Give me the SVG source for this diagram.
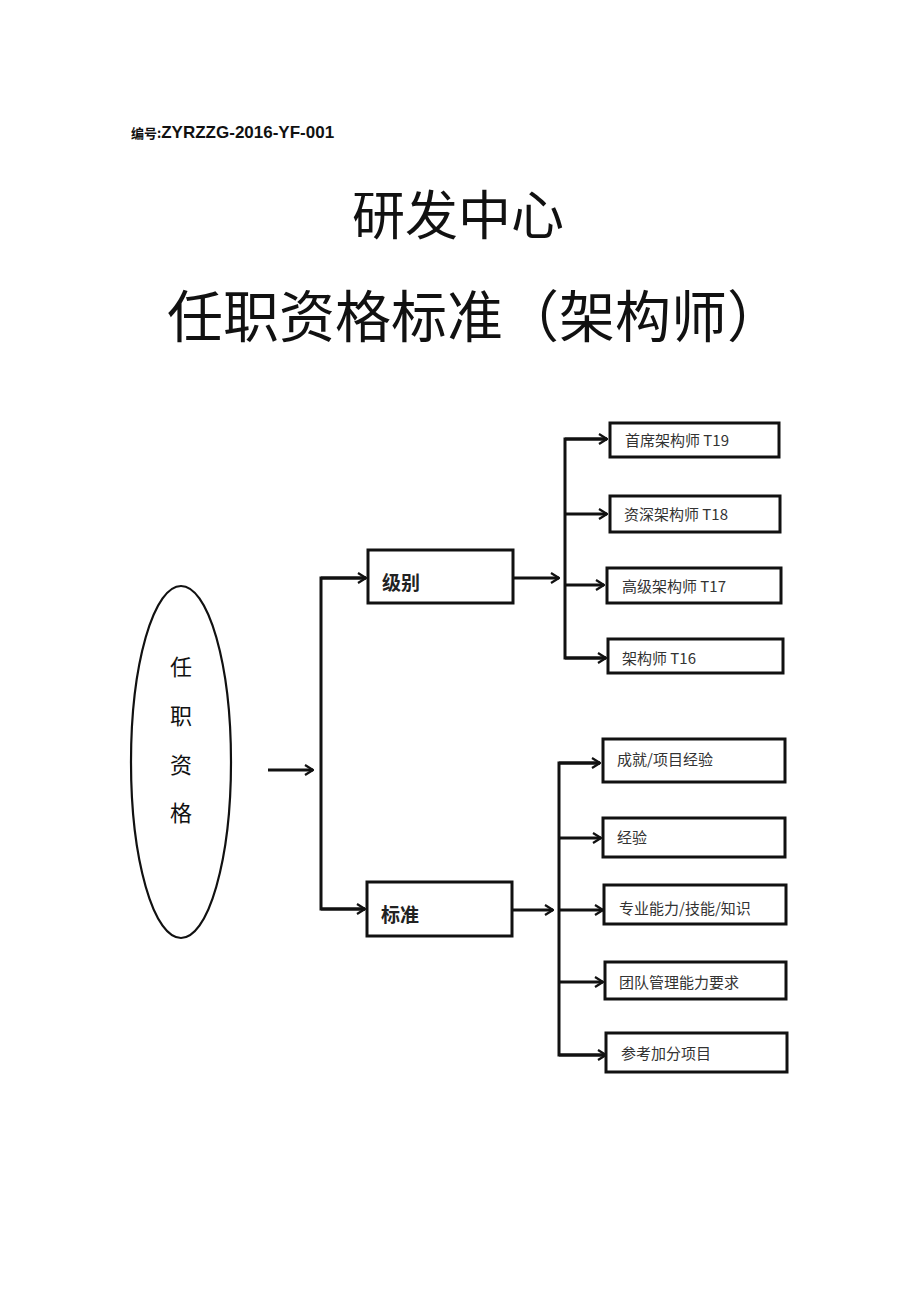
<svg xmlns="http://www.w3.org/2000/svg" width="920" height="1301" viewBox="0 0 920 1301">
<style>
.box{fill:#fff;stroke:#111;stroke-width:3}
.con{fill:none;stroke:#111;stroke-width:3}
.lbl{font-family:"Noto Sans CJK SC","Liberation Sans",sans-serif;font-size:15px;fill:#333}
.mid{font-family:"Noto Sans CJK SC","Liberation Sans",sans-serif;font-size:19px;font-weight:bold;fill:#222}
.title{font-family:"Noto Sans CJK SC",sans-serif;fill:#111}
.vt{font-family:"Noto Sans CJK SC",sans-serif;font-size:22px;fill:#111}
</style>
<defs>
<marker id="arr" viewBox="0 0 10 12" refX="9" refY="6" markerWidth="10" markerHeight="12" markerUnits="userSpaceOnUse" orient="auto">
<path d="M1,1 L9,6 L1,11" fill="none" stroke="#111" stroke-width="2.2"/>
</marker>
</defs>
<rect width="920" height="1301" fill="#fff"/>
<text x="131" y="138" font-family="Liberation Sans,Noto Sans CJK SC,sans-serif" font-size="17" font-weight="bold" fill="#111"><tspan font-size="13" font-family="Noto Sans CJK SC,sans-serif">编号:</tspan>ZYRZZG-2016-YF-001</text>
<text class="title" x="458" y="235" text-anchor="middle" style="font-size:53px">研发中心</text>
<text class="title" x="167" y="337" style="font-size:56px">任职资格标准（架构师）</text>

<g id="connectors">
<path class="con" d="M268,770 H313" marker-end="url(#arr)"/>
<path class="con" d="M366,578 H321 V909 H365" />
<path class="con" d="M321,578 H366" marker-end="url(#arr)"/>
<path class="con" d="M321,909 H365" marker-end="url(#arr)"/>
<path class="con" d="M513,578 H559" marker-end="url(#arr)"/>
<path class="con" d="M607,439 H565 V658 H606"/>
<path class="con" d="M565,439 H607" marker-end="url(#arr)"/>
<path class="con" d="M565,514 H607" marker-end="url(#arr)"/>
<path class="con" d="M565,585 H604" marker-end="url(#arr)"/>
<path class="con" d="M565,658 H606" marker-end="url(#arr)"/>
<path class="con" d="M513,910 H553" marker-end="url(#arr)"/>
<path class="con" d="M600,763 H559 V1055 H606"/>
<path class="con" d="M559,763 H600" marker-end="url(#arr)"/>
<path class="con" d="M559,838 H601" marker-end="url(#arr)"/>
<path class="con" d="M559,910 H603" marker-end="url(#arr)"/>
<path class="con" d="M559,982 H603" marker-end="url(#arr)"/>
<path class="con" d="M559,1055 H606" marker-end="url(#arr)"/>
</g>

<g id="root">
<ellipse cx="181" cy="762" rx="50" ry="176" fill="#fff" stroke="#111" stroke-width="2.2"/>
<text class="vt" x="181" y="675" text-anchor="middle">任</text>
<text class="vt" x="181" y="724" text-anchor="middle">职</text>
<text class="vt" x="181" y="773" text-anchor="middle">资</text>
<text class="vt" x="181" y="821" text-anchor="middle">格</text>
</g>

<g id="level">
<rect class="box" x="368" y="550" width="145" height="53"/>
<text class="mid" x="382" y="590">级别</text>
</g>
<g id="standard">
<rect class="box" x="367" y="882" width="145" height="54"/>
<text class="mid" x="381" y="922">标准</text>
</g>

<g id="t19"><rect class="box" x="610" y="423" width="169" height="34"/><text class="lbl" x="625" y="446">首席架构师 T19</text></g>
<g id="t18"><rect class="box" x="610" y="496" width="170" height="36"/><text class="lbl" x="624" y="520">资深架构师 T18</text></g>
<g id="t17"><rect class="box" x="607" y="568" width="174" height="35"/><text class="lbl" x="622" y="592">高级架构师 T17</text></g>
<g id="t16"><rect class="box" x="608" y="639" width="175" height="34"/><text class="lbl" x="622" y="664">架构师 T16</text></g>

<g id="s1"><rect class="box" x="603" y="739" width="182" height="43"/><text class="lbl" x="617" y="765">成就/项目经验</text></g>
<g id="s2"><rect class="box" x="603" y="818" width="182" height="39"/><text class="lbl" x="617" y="843">经验</text></g>
<g id="s3"><rect class="box" x="604" y="885" width="182" height="39"/><text class="lbl" x="619" y="914">专业能力/技能/知识</text></g>
<g id="s4"><rect class="box" x="605" y="962" width="181" height="37"/><text class="lbl" x="619" y="988">团队管理能力要求</text></g>
<g id="s5"><rect class="box" x="606" y="1033" width="181" height="39"/><text class="lbl" x="621" y="1059">参考加分项目</text></g>
</svg>
